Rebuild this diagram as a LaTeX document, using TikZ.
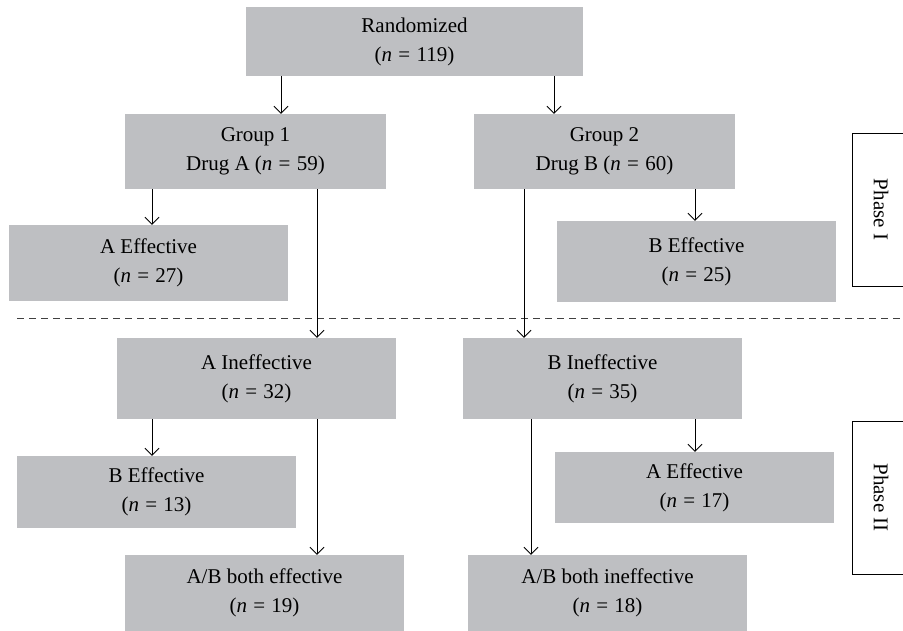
\documentclass[tikz,border=0pt]{standalone}
\usepackage{fontspec}
\setmainfont{Liberation Serif}
\usetikzlibrary{positioning,arrows.meta}
\definecolor{boxgray}{RGB}{190,191,194}
\newcommand{\nval}[1]{(\textit{n}\hspace{0.3em}=\hspace{0.3em}#1)}

\begin{document}
\begin{tikzpicture}[x=1pt, y=-1pt, font=\fontsize{21}{29}\selectfont,
	every node/.style={align=center, inner sep=0pt},
	box/.style={fill=boxgray, minimum width=279pt, minimum height=76pt},
	arr/.style={-{Straight Barb[length=7pt,width=14pt]}, line width=0.9pt},
	phase/.style={draw, line width=0.9pt, rotate=-90, minimum width=153pt, minimum height=58pt}]
	\useasboundingbox (0,0) rectangle (903,631);
	\clip (0,0) rectangle (903,631);
	% phase I
	\node[box, minimum width=337pt, minimum height=69pt] (R) at (414.5,41.5) {Randomized\\\nval{119}};
	\node[box, minimum width=261pt, minimum height=75pt] (G1) at (255.5,151.5) {Group 1\\Drug A \nval{59}};
	\node[box, minimum width=261pt, minimum height=75pt] (G2) at (604.5,151.5) {Group 2\\Drug B \nval{60}};
	\node[box] (AE1) at (148.5,263) {A Effective\\\nval{27}};
	\node[box, minimum height=81pt] (BE1) at (696.5,261.5) {B Effective\\\nval{25}};
	% phase II
	\node[box, minimum height=81pt] (AI) at (256.5,378.5) {A Ineffective\\\nval{32}};
	\node[box, minimum height=81pt] (BI) at (602.5,378.5) {B Ineffective\\\nval{35}};
	\node[box, minimum height=72pt] (BE2) at (156.5,492) {B Effective\\\nval{13}};
	\node[box, minimum height=71pt] (AE2) at (694.5,487.5) {A Effective\\\nval{17}};
	\node[box] (ABE) at (264.5,593) {A/B both effective\\\nval{19}};
	\node[box] (ABI) at (607.5,593) {A/B both ineffective\\\nval{18}};
	\node[phase] (P1) at (881,209.5) {Phase I};
	\node[phase] (P2) at (881,497.5) {Phase II};
	\draw[dashed, dash pattern=on 7pt off 5pt, line width=0.9pt, black!75] (17,318) -- (903,318);
	\draw[arr] (R.south -| 281,0) -- (G1.north -| 281,0);
	\draw[arr] (R.south -| 554,0) -- (G2.north -| 554,0);
	\draw[arr] (G1.south -| 152,0) -- (AE1.north -| 152,0);
	\draw[arr] (G1.south -| 317,0) -- (AI.north -| 317,0);
	\draw[arr] (G2.south -| 524,0) -- (BI.north -| 524,0);
	\draw[arr] (G2.south -| 695,0) -- (BE1.north -| 695,0);
	\draw[arr] (AI.south -| 152,0) -- (BE2.north -| 152,0);
	\draw[arr] (AI.south -| 317,0) -- (ABE.north -| 317,0);
	\draw[arr] (BI.south -| 531,0) -- (ABI.north -| 531,0);
	\draw[arr] (BI.south -| 695,0) -- (AE2.north -| 695,0);
\end{tikzpicture}
\end{document}
